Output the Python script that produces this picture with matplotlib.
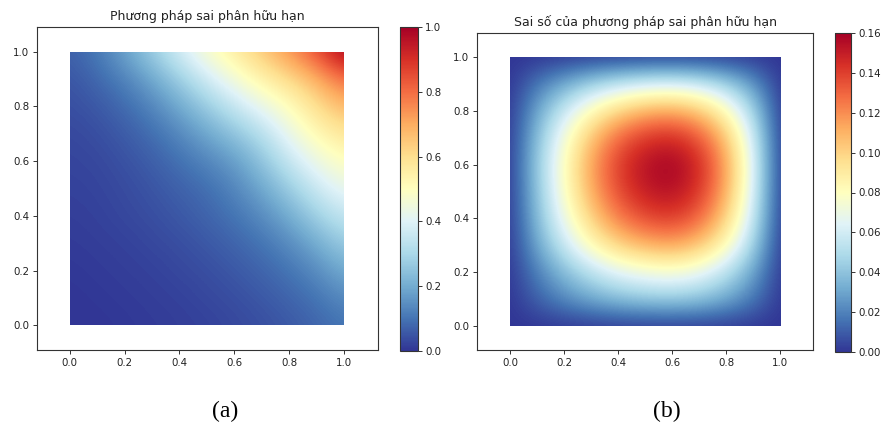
import numpy as np
import matplotlib
matplotlib.use("Agg")
import matplotlib.pyplot as plt
from matplotlib.patches import Rectangle

# Grid coordinates (x and y, 0..1)
grid_x = [0.0, 0.1, 0.2, 0.3, 0.4, 0.5, 0.6, 0.7, 0.8, 0.9, 1.0]
grid_y = [0.0, 0.1, 0.2, 0.3, 0.4, 0.5, 0.6, 0.7, 0.8, 0.9, 1.0]

# Panel (a): finite-difference solution, rows = y (0 -> 1), cols = x (0 -> 1)
solution = [
    [0.000, 0.000, 0.005, 0.010, 0.015, 0.020, 0.030, 0.040, 0.055, 0.075, 0.100],
    [0.000, 0.005, 0.010, 0.015, 0.020, 0.030, 0.040, 0.055, 0.075, 0.100, 0.140],
    [0.005, 0.010, 0.015, 0.020, 0.030, 0.040, 0.055, 0.075, 0.100, 0.140, 0.200],
    [0.010, 0.015, 0.020, 0.030, 0.040, 0.055, 0.075, 0.100, 0.140, 0.200, 0.270],
    [0.015, 0.020, 0.030, 0.040, 0.055, 0.075, 0.100, 0.140, 0.200, 0.280, 0.350],
    [0.020, 0.025, 0.035, 0.050, 0.070, 0.090, 0.130, 0.190, 0.270, 0.360, 0.430],
    [0.025, 0.030, 0.045, 0.065, 0.095, 0.130, 0.170, 0.250, 0.350, 0.440, 0.500],
    [0.030, 0.040, 0.060, 0.090, 0.135, 0.190, 0.250, 0.320, 0.430, 0.520, 0.580],
    [0.040, 0.055, 0.085, 0.130, 0.195, 0.270, 0.350, 0.430, 0.500, 0.600, 0.680],
    [0.050, 0.080, 0.125, 0.190, 0.275, 0.370, 0.460, 0.540, 0.610, 0.690, 0.800],
    [0.070, 0.110, 0.185, 0.275, 0.380, 0.480, 0.560, 0.650, 0.740, 0.850, 1.000],
]

# Panel (b): error of the finite-difference method
error = [
    [0.000, 0.000, 0.000, 0.000, 0.000, 0.000, 0.000, 0.000, 0.000, 0.000, 0.000],
    [0.000, 0.011, 0.022, 0.031, 0.038, 0.042, 0.043, 0.040, 0.031, 0.017, 0.000],
    [0.000, 0.019, 0.037, 0.053, 0.065, 0.071, 0.074, 0.068, 0.053, 0.029, 0.000],
    [0.000, 0.030, 0.057, 0.082, 0.100, 0.110, 0.114, 0.105, 0.082, 0.045, 0.000],
    [0.000, 0.037, 0.070, 0.101, 0.124, 0.137, 0.141, 0.130, 0.101, 0.056, 0.000],
    [0.000, 0.040, 0.078, 0.112, 0.137, 0.151, 0.155, 0.143, 0.112, 0.062, 0.000],
    [0.000, 0.042, 0.080, 0.115, 0.141, 0.155, 0.160, 0.147, 0.115, 0.064, 0.000],
    [0.000, 0.038, 0.074, 0.106, 0.130, 0.143, 0.147, 0.135, 0.106, 0.059, 0.000],
    [0.000, 0.030, 0.058, 0.083, 0.101, 0.112, 0.115, 0.106, 0.083, 0.046, 0.000],
    [0.000, 0.017, 0.032, 0.046, 0.056, 0.062, 0.064, 0.059, 0.046, 0.026, 0.000],
    [0.000, 0.000, 0.000, 0.000, 0.000, 0.000, 0.000, 0.000, 0.000, 0.000, 0.000],
]

title_a = "Phương pháp sai phân hữu hạn"
title_b = "Sai số của phương pháp sai phân hữu hạn"
caption_a = "(a)"
caption_b = "(b)"
axis_ticks = [0.0, 0.2, 0.4, 0.6, 0.8, 1.0]
cbar_ticks_a = [0.0, 0.2, 0.4, 0.6, 0.8, 1.0]
cbar_ticks_b = [0.00, 0.02, 0.04, 0.06, 0.08, 0.10, 0.12, 0.14, 0.16]

W, H = 885, 429
fig = plt.figure(figsize=(W / 100, H / 100), dpi=100)


def rect(x0, y0, x1, y1):
    return [x0 / W, 1 - y1 / H, (x1 - x0) / W, (y1 - y0) / H]


tick_fs = 7.4
title_fs = 9.0
spine_color = "#333333"

ax_a = fig.add_axes(rect(37, 27, 378, 350))
cax_a = fig.add_axes(rect(400, 27, 418, 351))
ax_b = fig.add_axes(rect(477, 33, 813, 350))
cax_b = fig.add_axes(rect(835, 33, 851, 352))

cmap = "RdYlBu_r"


def draw_field(ax, data, vmax):
    dx = (grid_x[1] - grid_x[0]) / 2
    dy = (grid_y[1] - grid_y[0]) / 2
    im = ax.imshow(np.array(data), origin="lower", cmap=cmap, vmin=0.0, vmax=vmax,
                   interpolation="bicubic", aspect="auto",
                   extent=(grid_x[0] - dx, grid_x[-1] + dx, grid_y[0] - dy, grid_y[-1] + dy))
    clip = Rectangle((grid_x[0], grid_y[0]), grid_x[-1] - grid_x[0], grid_y[-1] - grid_y[0],
                     transform=ax.transData)
    im.set_clip_path(clip)
    return im


m_a = draw_field(ax_a, solution, 1.0)
m_b = draw_field(ax_b, error, 0.16)

for ax, title, xl in ((ax_a, title_a, (-0.12, 1.125)), (ax_b, title_b, (-0.122, 1.122))):
    ax.set_xlim(*xl)
    ax.set_ylim(-0.09, 1.09)
    ax.set_xticks(axis_ticks)
    ax.set_yticks(axis_ticks)
    ax.set_xticklabels([f"{t:.1f}" for t in axis_ticks])
    ax.set_yticklabels([f"{t:.1f}" for t in axis_ticks])
    ax.tick_params(labelsize=tick_fs, length=3, width=0.7, colors="#333333",
                   labelcolor="#222222", pad=2.5)
    for s in ax.spines.values():
        s.set_color(spine_color)
        s.set_linewidth(0.8)
    ax.set_title(title, fontsize=title_fs, color="#222222", pad=5)

cb_a = fig.colorbar(m_a, cax=cax_a, ticks=cbar_ticks_a)
cb_a.ax.set_yticklabels([f"{t:.1f}" for t in cbar_ticks_a])
cb_b = fig.colorbar(m_b, cax=cax_b, ticks=cbar_ticks_b)
cb_b.ax.set_yticklabels([f"{t:.2f}" for t in cbar_ticks_b])
for cb in (cb_a, cb_b):
    cb.ax.tick_params(labelsize=tick_fs, length=3, width=0.7, colors="#333333",
                      labelcolor="#222222", pad=2)
    cb.outline.set_edgecolor(spine_color)
    cb.outline.set_linewidth(0.8)

fig.text(225 / W, 1 - 411 / H, caption_a, ha="center", va="center",
         fontsize=17, family="Liberation Serif", color="black")
fig.text(667 / W, 1 - 411 / H, caption_b, ha="center", va="center",
         fontsize=17, family="Liberation Serif", color="black")

fig.savefig("out.png", dpi=100)
